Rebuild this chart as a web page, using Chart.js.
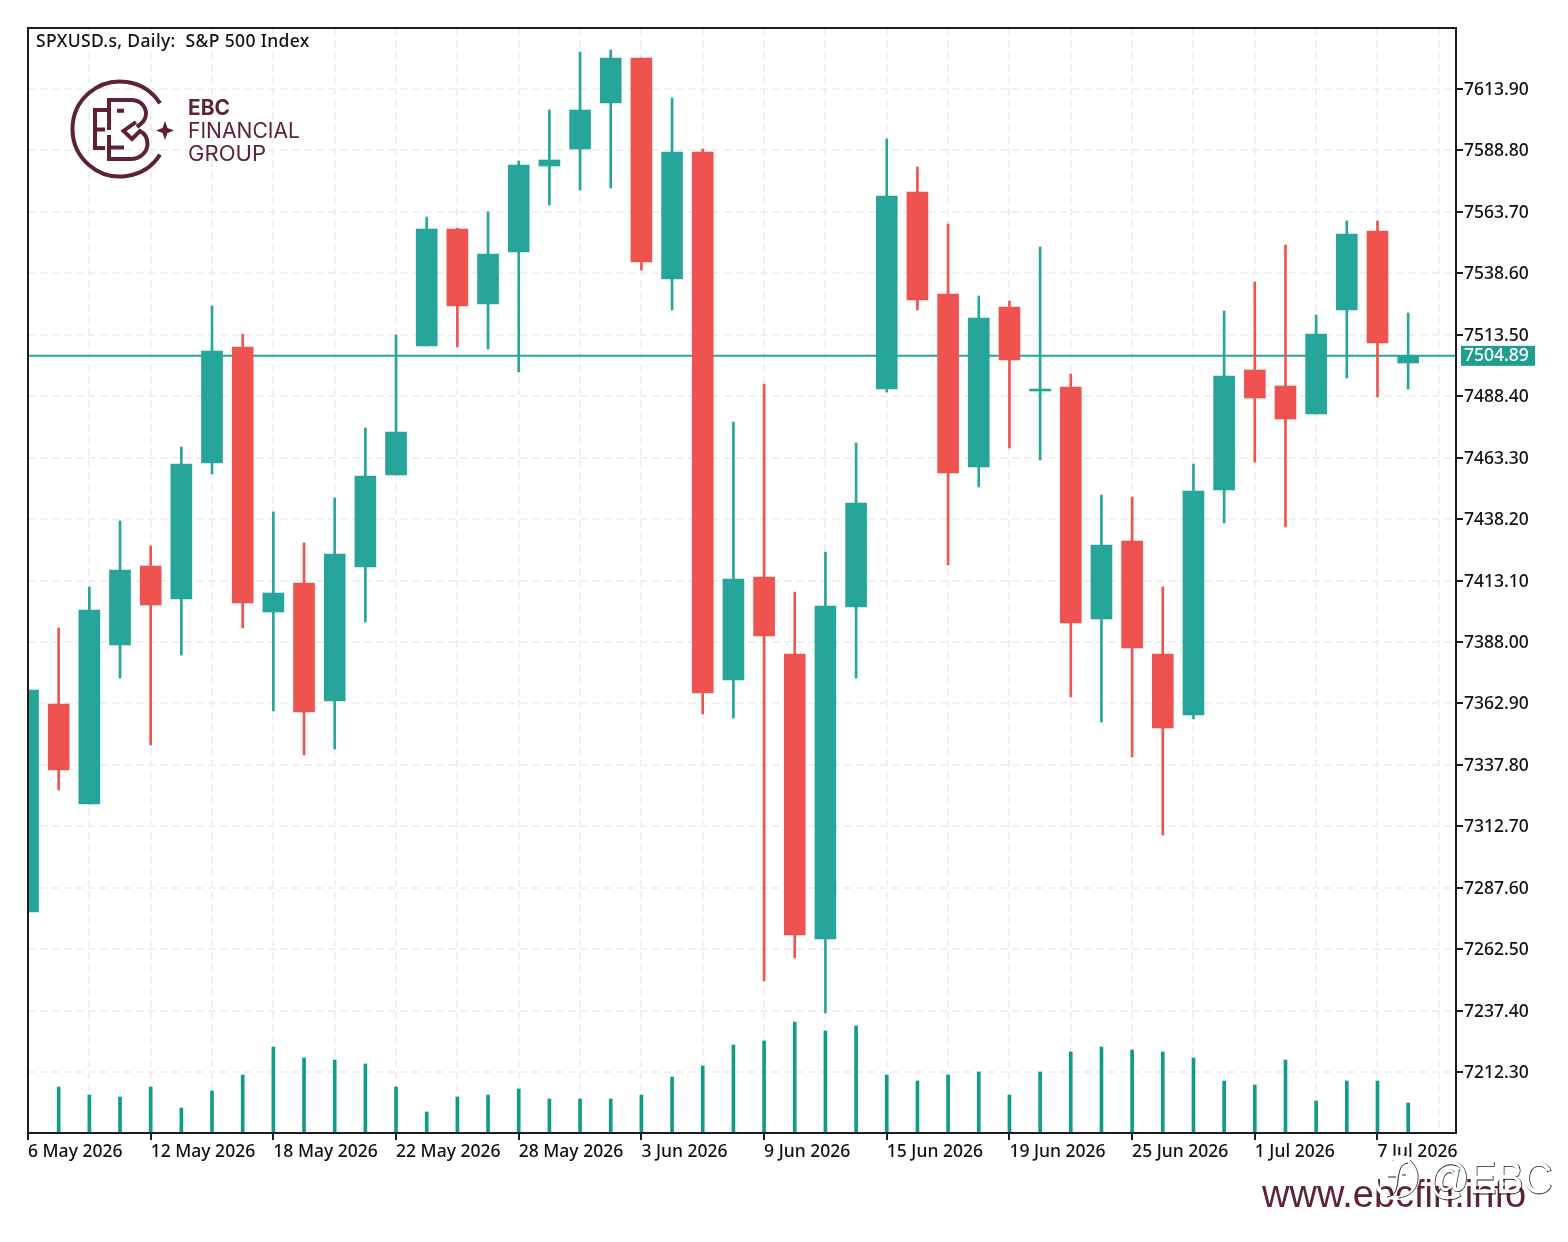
<!DOCTYPE html>
<html>
<head>
<meta charset="utf-8">
<title>SPXUSD.s Daily</title>
<script src="https://cdn.jsdelivr.net/npm/chart.js@4/dist/chart.umd.min.js"></script>
<style>
html,body{margin:0;padding:0;background:#fff;width:1568px;height:1242px;overflow:hidden}
#wrap{position:relative;width:1568px;height:1242px}
canvas{position:absolute;left:0;top:0}
#brand{position:absolute;left:0;top:0;pointer-events:none}
</style>
</head>
<body>
<div id="wrap">
<canvas id="c" width="1568" height="1242"></canvas>
<svg id="brand" width="1568" height="1242" viewBox="0 0 1568 1242">
  <g fill="none" stroke="#5e2233" stroke-width="4">
    <path d="M160 103.400 A47.500 47.500 0 1 0 160 154.600"/>
    <path d="M109 130V100H131C141 100 146 107 146 114C146 120 142 123 137 127"/>
    <path d="M136 122L123.500 131L132 139L140 131C146 134 147.500 140 147.500 144C147.500 152 140 159 131 159H109V135"/>
    <path d="M109 110H95V148H105M95 129.500H105M109 147.500H124M117 110.700H124"/>
  </g>
  <path d="M165 121L167.500 128L174 130.500L167.500 133L165 140L162.500 133L156 130.500L162.500 128Z" fill="#5e2233"/>
  <g fill="#5e2233" font-family="Inter, 'Open Sans', sans-serif">
    <text x="188" y="115" font-size="21" font-weight="700" textLength="42" lengthAdjust="spacingAndGlyphs">EBC</text>
    <text x="188" y="138" font-size="21" font-weight="400" textLength="112" lengthAdjust="spacingAndGlyphs">FINANCIAL</text>
    <text x="188" y="161" font-size="21" font-weight="400" textLength="78" lengthAdjust="spacingAndGlyphs">GROUP</text>
  </g>
  <text x="1262" y="1207" font-family="'Liberation Sans', Arial, sans-serif" font-size="38" fill="#5e2233">www.ebcfin.info</text>
  <g font-family="'Liberation Sans', Arial, sans-serif" font-size="45">
    <text x="1429" y="1193.500" textLength="124" lengthAdjust="spacingAndGlyphs" fill="none" stroke="#222" stroke-width="0.8">@EBC</text>
    <text x="1428" y="1192.500" textLength="124" lengthAdjust="spacingAndGlyphs" fill="#fff">@EBC</text>
  </g>
  <path d="M1400 1157C1386 1158 1376 1168 1376 1180C1376 1192 1388 1199 1398 1198C1411 1197 1418 1187 1418 1176C1418 1166 1411 1157 1400 1157Z" fill="none" stroke="#fff" stroke-width="4"/>
  <path d="M1410 1160C1416 1166 1419 1172 1418 1180C1417 1190 1410 1197 1398 1198" fill="none" stroke="#222" stroke-width="0.8"/>
  <path d="M1408 1163C1400 1164 1399 1172 1398 1180C1397 1190 1395 1196 1387 1197M1388 1177H1396M1402 1175H1406" fill="none" stroke="#222" stroke-width="1"/>
</svg>
</div>
<script>
// Daily session labels for the time axis, one per every fourth bar
const dateLabels = ['6 May 2026','12 May 2026','18 May 2026','22 May 2026','28 May 2026','3 Jun 2026','9 Jun 2026','15 Jun 2026','19 Jun 2026','25 Jun 2026','1 Jul 2026','7 Jul 2026'];
const priceTicks = [7613.90,7588.80,7563.70,7538.60,7513.50,7488.40,7463.30,7438.20,7413.10,7388.00,7362.90,7337.80,7312.70,7287.60,7262.50,7237.40,7212.30];

// OHLC series
const opens  = [7277.68,7362.66,7321.80,7386.76,7419.03,7405.55,7461.11,7508.50,7400.24,7412.09,7363.88,7418.62,7456.21,7508.91,7556.71,7526.07,7547.31,7582.44,7589.39,7608.18,7626.57,7536.28,7588.16,7372.46,7414.54,7383.08,7266.65,7402.28,7491.34,7571.82,7530.15,7459.48,7524.84,7490.52,7492.16,7397.38,7429.25,7383.08,7358.16,7450.08,7499.10,7492.57,7481.13,7523.62,7555.89,7501.96];
const highs  = [7368.37,7393.70,7410.45,7437.42,7427.20,7467.65,7525.25,7513.81,7441.09,7428.43,7446.81,7475.41,7513.40,7561.61,7557.12,7563.65,7584.49,7605.32,7629.02,7629.83,7626.57,7610.22,7589.39,7477.86,7493.38,7408.41,7424.75,7469.28,7593.47,7582.04,7558.75,7529.34,7527.29,7549.35,7497.47,7448.04,7447.22,7410.45,7460.70,7523.21,7535.05,7550.17,7521.57,7559.97,7559.97,7522.39];
const lows   = [7277.68,7327.52,7321.80,7373.28,7345.91,7382.67,7456.62,7393.70,7359.80,7341.82,7344.27,7396.15,7456.21,7508.91,7508.50,7507.68,7498.29,7566.51,7572.64,7573.46,7539.96,7523.62,7358.57,7356.94,7249.49,7258.89,7236.42,7373.28,7490.12,7523.62,7419.44,7451.31,7467.24,7462.34,7365.51,7355.30,7341.00,7309.14,7356.53,7436.60,7461.52,7434.96,7481.13,7495.84,7488.07,7491.34];
const closes = [7368.37,7335.69,7401.06,7417.40,7403.10,7460.70,7506.87,7403.92,7408.00,7359.39,7423.93,7455.80,7473.78,7556.71,7525.25,7546.49,7582.85,7584.90,7605.32,7626.57,7543.23,7588.16,7367.15,7413.72,7390.43,7268.28,7402.69,7444.77,7570.19,7527.70,7457.03,7520.35,7503.19,7491.34,7395.75,7427.61,7385.53,7352.85,7449.67,7496.65,7487.67,7479.09,7513.81,7554.66,7510.13,7504.89];
// Tick volume per session; the first session has no visible bar
const volumes = [0,46,38,36,46,25,42,58,86,75,73,69,46,21,36,38,44,34,34,34,38,56,67,88,92,111,102,107,58,52,58,61,38,61,81,86,83,81,75,52,48,73,32,52,52,30];

const lastPrice = closes[closes.length - 1];
const UP = '#26a69a', DOWN = '#ef5350', VOL = '#0f9d8a', INK = '#1c1c1c', GRID = '#f4eef3';
const X_MAX = 46.56;
const AXIS_FONT = { family: 'Noto Sans', size: 17.5, weight: 500 };
const AXIS_FONT_CSS = '500 17.5px "Noto Sans"';
const barColours = closes.map((c, i) => c >= opens[i] ? UP : DOWN);
const pick = key => key === 'wick'
  ? highs.map((h, i) => ({ x: i, y: [lows[i], h] }))
  : closes.map((c, i) => ({ x: i, y: [Math.min(opens[i], c), Math.max(opens[i], c)] }));

// Plot frame and the boxed last-price tag on the price axis
const framePlugin = {
  id: 'frame',
  afterDraw(chart) {
    const { ctx, chartArea: a, scales } = chart;
    ctx.save();
    ctx.strokeStyle = INK;
    ctx.lineWidth = 2;
    ctx.strokeRect(a.left, a.top, a.right - a.left, a.bottom - a.top);
    const y = scales.y.getPixelForValue(lastPrice);
    ctx.fillStyle = '#1f9e8e';
    ctx.fillRect(a.right + 5, y - 10, 74, 20);
    ctx.fillStyle = '#fff';
    ctx.font = AXIS_FONT_CSS;
    ctx.textBaseline = 'middle';
    ctx.fillText(lastPrice.toFixed(2), a.right + 8, y);
    ctx.fillStyle = '#111';
    ctx.textBaseline = 'alphabetic';
    ctx.letterSpacing = '0.35px';
    ctx.fillText('SPXUSD.s, Daily:  S&P 500 Index', a.left + 8, a.top + 19);
    ctx.restore();
  }
};

new Chart(document.getElementById('c'), {
  type: 'bar',
  data: {
    datasets: [
      { type: 'line', data: [{ x: 0, y: lastPrice }, { x: X_MAX, y: lastPrice }], borderColor: UP, borderWidth: 2, pointRadius: 0, order: 3 },
      { data: pick('wick'), backgroundColor: barColours, barThickness: 2, grouped: false, order: 2 },
      { data: pick('body'), backgroundColor: barColours, barThickness: 21, grouped: false, minBarLength: 2, order: 1 },
      { data: volumes.map((v, i) => ({ x: i, y: v })), backgroundColor: VOL, barThickness: 3, grouped: false, yAxisID: 'yVol', order: 0 }
    ]
  },
  options: {
    responsive: false,
    animation: false,
    layout: { padding: { left: 28, top: 28, right: 0, bottom: 0 } },
    plugins: { legend: { display: false }, tooltip: { enabled: false } },
    scales: {
      x: {
        type: 'linear', min: 0, max: X_MAX, offset: false,
        afterBuildTicks(s) { s.ticks = []; for (let v = 0; v <= 46; v += 2) s.ticks.push({ value: v }); },
        afterFit(s) { s.height = 109; },
        border: { display: false, dash: [7, 5] },
        grid: {
          offset: false, color: GRID, lineWidth: 2, tickLength: 7, tickWidth: 2, tickBorderDash: [],
          tickColor: c => (c.tick && c.tick.value % 4 !== 0) ? 'rgba(0,0,0,0)' : INK
        },
        ticks: {
          autoSkip: false, maxRotation: 0, align: 'start', padding: 2,
          color: '#111', font: AXIS_FONT,
          callback: v => v % 4 === 0 ? dateLabels[v / 4] : ''
        }
      },
      y: {
        position: 'right', min: 7187.40, max: 7638.82,
        afterBuildTicks(s) { s.ticks = priceTicks.map(value => ({ value })); },
        afterFit(s) { s.width = 112; },
        border: { display: false, dash: [7, 5] },
        grid: { color: GRID, lineWidth: 2, tickLength: 7, tickColor: INK, tickBorderDash: [], tickWidth: 2 },
        ticks: {
          autoSkip: false, padding: 1, color: '#111', labelOffset: 1,
          font: AXIS_FONT,
          callback: v => v.toFixed(2)
        }
      },
      yVol: { display: false, min: 0, max: 1105 }
    }
  },
  plugins: [framePlugin]
});
</script>
</body>
</html>
